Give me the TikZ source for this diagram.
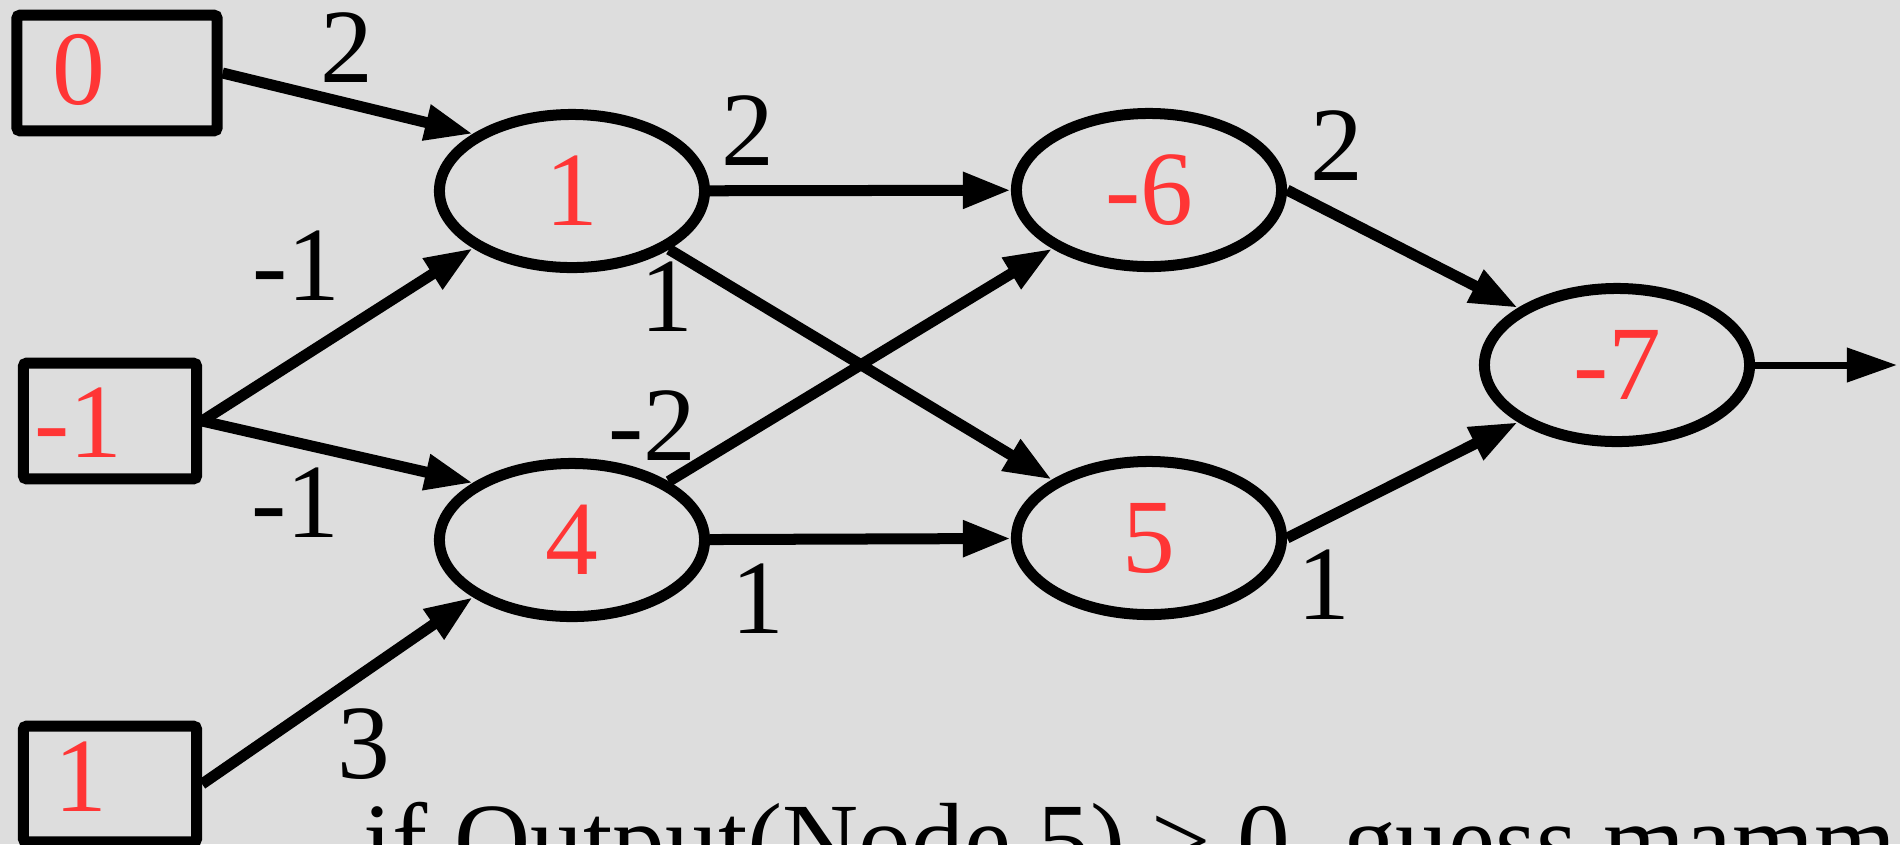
\documentclass[tikz,border=0pt]{standalone}
\usepackage{fontspec}
\setmainfont{Liberation Serif}
\usetikzlibrary{arrows.meta,shapes.geometric}
\definecolor{bg}{HTML}{DDDDDD}
\definecolor{valred}{HTML}{FF3535}

\begin{document}
\begin{tikzpicture}[x=0.01cm, y=-0.01cm,
	line width=0.11cm,
	every node/.style = {font=\fontsize{30}{36}\selectfont, inner sep=0pt},
	inbox/.style = {draw, rectangle,
		rounded corners=0.03cm,
		minimum height=1.155cm},
	unit/.style = {draw, ellipse,
		minimum width=2.65cm,
		minimum height=1.53cm},
	val/.style = {text=valred},
	conn/.style = {-{Triangle[length=0.48cm, width=0.34cm]}}]

	\fill[bg] (0,0) rectangle (1900,844);
	\useasboundingbox (0,0) rectangle (1900,844);

	% input boxes
	\node[inbox, minimum width=2.0cm] (x0) at (117,73) {};
	\node[inbox, minimum width=1.73cm] (xm1) at (110,421) {};
	\node[inbox, minimum width=1.73cm] (x1) at (110,784) {};
	\node[val] (v0) at (79,70) {0};
	\node[val] (vm1) at (78,423) {-1};
	\node[val] (v1) at (81,777) {1};

	% hidden and output units
	\node[unit, val] (e1) at (572,191) {1};
	\node[unit, val] (e4) at (572,540) {4};
	\node[unit, val] (e6) at (1149,190) {-6};
	\node[unit, val] (e5) at (1149,538) {5};
	\node[unit, val] (e7) at (1617,365) {-7};
	\coordinate (out) at (1897,365);

	\draw[conn] (x0.east) -- (e1.150);
	\draw[conn] (xm1.east) -- (e1.210);
	\draw[conn] (xm1.east) -- (e4.150);
	\draw[conn] (x1.east) -- (e4.210);
	\draw[conn] (e1) -- (e6);
	\draw[conn] (e1) -- (e5);
	\draw[conn] (e4) -- (e6);
	\draw[conn] (e4) -- (e5);
	\draw[conn] (e6.east) -- (e7.150);
	\draw[conn] (e5.east) -- (e7.210);
	\draw[line width=0.07cm, -{Triangle[length=0.5cm, width=0.33cm]}] (e7) -- (out);

	% weights
	\node (w1) at (347,48) {2};
	\node (w2) at (296,266) {-1};
	\node (w3) at (295,503) {-1};
	\node (w4) at (364,744) {3};
	\node (w5) at (748,131) {2};
	\node (w6) at (667,297) {1};
	\node (w7) at (652,426) {-2};
	\node (w8) at (758,599) {1};
	\node (w9) at (1337,146) {2};
	\node (w10) at (1324,585) {1};

	\node[anchor=base west] (rule) at (358,876) {if Output(Node 5) > 0, guess mamm};

\end{tikzpicture}
\end{document}
